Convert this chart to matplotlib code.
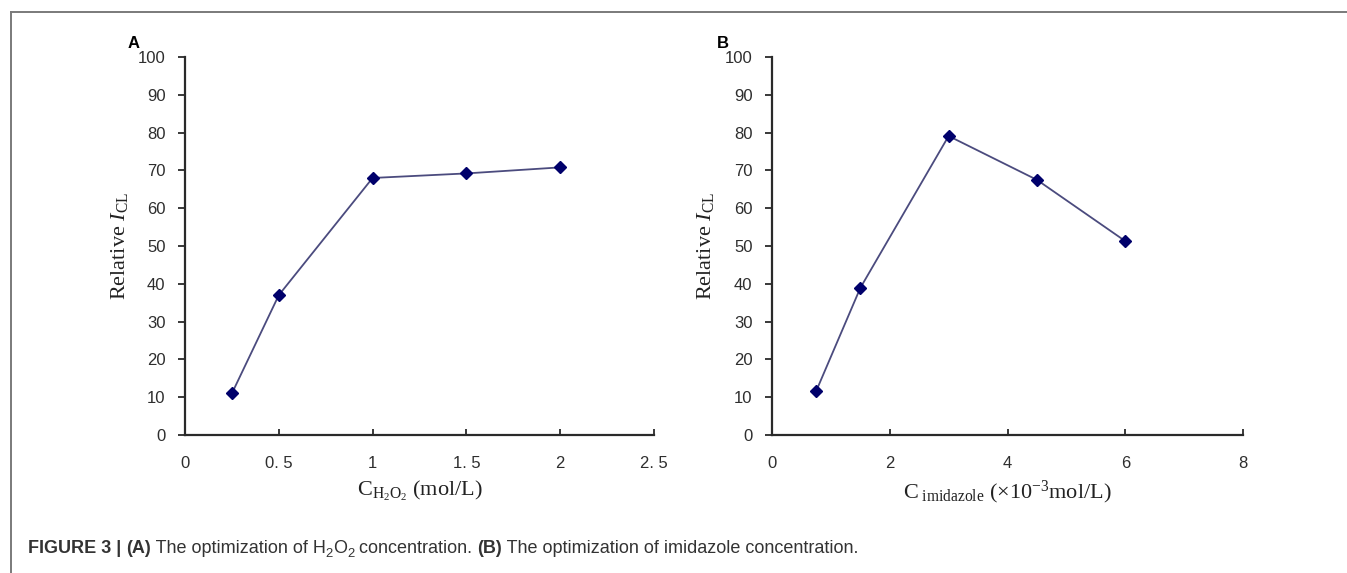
import numpy as np
import matplotlib
matplotlib.use("Agg")
import matplotlib.pyplot as plt
from matplotlib.lines import Line2D

plt.rcParams["font.family"] = ["Liberation Sans", "DejaVu Sans"]
plt.rcParams["mathtext.fontset"] = "custom"
plt.rcParams["mathtext.rm"] = "Liberation Serif"
plt.rcParams["mathtext.it"] = "Liberation Serif:italic"
plt.rcParams["mathtext.bf"] = "Liberation Serif:bold"

# --- data ---
h2o2_conc = [0.25, 0.5, 1.0, 1.5, 2.0]
h2o2_icl = [11.0, 37.0, 68.0, 69.2, 70.8]

imid_conc = [0.75, 1.5, 3.0, 4.5, 6.0]
imid_icl = [11.6, 38.9, 79.1, 67.5, 51.3]

xticks_a = [0, 0.5, 1, 1.5, 2, 2.5]
xticklabels_a = ["0", "0. 5", "1", "1. 5", "2", "2. 5"]
xticks_b = [0, 2, 4, 6, 8]
yticks = list(range(0, 101, 10))

W, H = 1347, 573
fig = plt.figure(figsize=(W / 100, H / 100), dpi=100)

line_col = "#4b4b7e"
mark_col = "#00006b"
tick_col = "#2e2e2e"
serif = "Liberation Serif"


def make_panel(left_px, right_px, xlim, xticks, xticklabels, x, y, xlabel):
    top_px, bot_px = 57, 435
    ax = fig.add_axes([left_px / W, 1 - bot_px / H, (right_px - left_px) / W, (bot_px - top_px) / H])
    ax.plot(x, y, color=line_col, lw=1.3, marker="D", ms=6.5,
            markerfacecolor=mark_col, markeredgecolor=mark_col, zorder=3)
    ax.set_xlim(*xlim)
    ax.set_ylim(0, 100)
    ax.spines["top"].set_visible(False)
    ax.spines["right"].set_visible(False)
    for s in ("left", "bottom"):
        ax.spines[s].set_linewidth(1.6)
        ax.spines[s].set_color("#2a2a2a")
    ax.set_xticks(xticks)
    ax.set_xticklabels(xticklabels)
    ax.set_yticks(yticks)
    ax.tick_params(axis="x", direction="in", length=4, width=1.3, pad=15,
                   labelsize=12, labelcolor=tick_col, color="#2a2a2a")
    ax.tick_params(axis="y", direction="out", length=5, width=1.3, pad=9,
                   labelsize=12, labelcolor=tick_col, color="#2a2a2a")
    ax.set_ylabel(r"Relative $I_{\mathrm{CL}}$", family=serif, fontsize=16, color="#222222")
    ax.yaxis.set_label_coords(-0.118, 0.5)
    ax.set_xlabel(xlabel, family=serif, fontsize=16, color="#222222")
    ax.xaxis.set_label_coords(0.5, -0.115)
    return ax


ax_a = make_panel(185, 654, (0, 2.5), xticks_a, xticklabels_a, h2o2_conc, h2o2_icl,
                  r"C$_{\mathrm{H_2O_2}}$ (mol/L)")
ax_b = make_panel(772, 1243, (0, 8), xticks_b, [str(t) for t in xticks_b], imid_conc, imid_icl,
                  r"C$_{\ \mathrm{imidazole}}$ ($\times$10$^{\mathrm{-3}}$mol/L)")

fig.text(128 / W, 1 - 44 / H, "A", fontsize=12, fontweight="bold", ha="left", va="center")
fig.text(717 / W, 1 - 44 / H, "B", fontsize=12, fontweight="bold", ha="left", va="center")

# frame lines (left and top)
fig.add_artist(Line2D([10.5 / W, 10.5 / W], [0, 1 - 12 / H], transform=fig.transFigure,
                      color="#7a7a7a", lw=1.4))
fig.add_artist(Line2D([10.5 / W, 1], [1 - 12 / H, 1 - 12 / H], transform=fig.transFigure,
                      color="#7a7a7a", lw=1.4))

# caption, drawn piece by piece
pieces = [
    ("FIGURE 3 | ", "bold", 0),
    ("(A)", "bold", 0),
    (" The optimization of H", "normal", 0),
    ("2", "normal", 1),
    ("O", "normal", 0),
    ("2", "normal", 1),
    (" concentration. ", "normal", 0),
    ("(B)", "bold", 0),
    (" The optimization of imidazole concentration.", "normal", 0),
]
renderer = fig.canvas.get_renderer()
xpos = 28
base_y = 1 - 553 / H
cap_size = 13
for txt, weight, sub in pieces:
    size = cap_size * 0.72 if sub else cap_size
    yy = base_y - (4 / H if sub else 0)
    t = fig.text(xpos / W, yy, txt, fontsize=size, fontweight=weight,
                 color="#333333", ha="left", va="baseline")
    bb = t.get_window_extent(renderer=renderer)
    xpos += bb.width

fig.savefig("out.png", dpi=100)
